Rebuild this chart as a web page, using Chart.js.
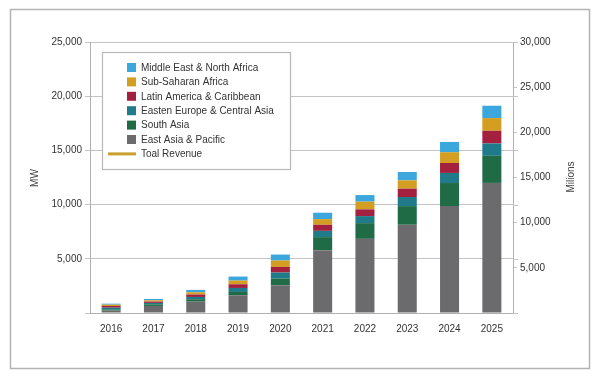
<!DOCTYPE html>
<html>
<head>
<meta charset="utf-8">
<script src="https://cdn.jsdelivr.net/npm/chart.js@4/dist/chart.umd.min.js"></script>
<style>
  html, body { margin: 0; padding: 0; background: #fff; }
  #wrap { width: 600px; height: 377px; }
</style>
</head>
<body>
<div id="wrap"><canvas id="regionChart" width="600" height="377"></canvas></div>
<script>
// Jahre und Werte (MW) je Region, von unten nach oben gestapelt
const years = ['2016', '2017', '2018', '2019', '2020', '2021', '2022', '2023', '2024', '2025'];
const eastAsia     = [220, 650, 1050, 1640, 2560, 5800, 6840, 8140, 9860, 12000];
const southAsia    = [120, 150, 220, 300, 620, 1200, 1450, 1720, 2130, 2500];
const easternEu    = [150, 130, 210, 370, 550, 580, 650, 840, 930, 1140];
const latinAmerica = [160, 120, 220, 340, 520, 560, 620, 770, 920, 1170];
const subSaharan   = [120, 120, 210, 340, 590, 520, 710, 770, 990, 1170];
const middleEast   = [90, 130, 220, 370, 550, 590, 610, 770, 950, 1140];
// Umsatzlinie: im Bild nicht sichtbar, daher leer
const revenue      = [null, null, null, null, null, null, null, null, null, null];

const leftTicks = [0, 5000, 10000, 15000, 20000, 25000];
const rightTicks = [0, 5000, 10000, 15000, 20000, 25000, 30000];

const fontFamily = '"Liberation Sans", Arial, sans-serif';
const gridColor = '#c4c4c4';

// Rahmen, Achsentitel und Legende im Diagramm zeichnen
const decorPlugin = {
    id: 'decor',
    afterDraw(chart) {
        const ctx = chart.ctx;
        const area = chart.chartArea;
        ctx.save();

        // äusserer Rahmen
        ctx.strokeStyle = '#b4b4b4';
        ctx.lineWidth = 1.5;
        ctx.strokeRect(10.5, 9.5, 579, 359);

        // kleine Striche rechts der rechten Achse
        ctx.strokeStyle = gridColor;
        ctx.lineWidth = 1;
        chart.scales.y.ticks.forEach(t => {
            const yy = Math.round(chart.scales.y.getPixelForValue(t.value)) + 0.5;
            ctx.beginPath();
            ctx.moveTo(area.right, yy);
            ctx.lineTo(area.right + 5, yy);
            ctx.stroke();
        });

        // Achsentitel
        ctx.fillStyle = '#444';
        ctx.font = '10px ' + fontFamily;
        ctx.textAlign = 'center';
        ctx.textBaseline = 'middle';
        ctx.save();
        ctx.translate(35, 178);
        ctx.rotate(-Math.PI / 2);
        ctx.fillText('MW', 0, 0);
        ctx.restore();
        ctx.save();
        ctx.translate(571, 177);
        ctx.rotate(-Math.PI / 2);
        ctx.fillText('Milions', 0, 0);
        ctx.restore();

        // Legende
        const bx = 102.5, by = 52.5, bw = 188, bh = 117;
        ctx.fillStyle = '#fff';
        ctx.fillRect(bx, by, bw, bh);
        ctx.strokeStyle = '#b8b8b8';
        ctx.lineWidth = 1.2;
        ctx.strokeRect(bx, by, bw, bh);

        const ds = chart.data.datasets;
        const bars = ds.filter(d => d.type !== 'line').slice().reverse();
        const lines = ds.filter(d => d.type === 'line');
        const items = bars.concat(lines);
        ctx.font = '10px ' + fontFamily;
        ctx.textAlign = 'left';
        ctx.textBaseline = 'middle';
        items.forEach((d, i) => {
            const cy = 67.5 + i * 14.4;
            if (d.type === 'line') {
                ctx.fillStyle = d.borderColor;
                ctx.fillRect(108, cy - 1.5, 28, 3);
            } else {
                ctx.fillStyle = d.backgroundColor;
                ctx.fillRect(127, cy - 4.5, 9, 9);
            }
            ctx.fillStyle = '#333';
            ctx.fillText(d.label, 141, cy + 0.5);
        });
        ctx.restore();
    }
};

const ctx = document.getElementById('regionChart').getContext('2d');
const regionChart = new Chart(ctx, {
    type: 'bar',
    data: {
        labels: years,
        datasets: [
            { label: 'East Asia & Pacific', data: eastAsia, backgroundColor: '#6b6b6e' },
            { label: 'South Asia', data: southAsia, backgroundColor: '#1f6b45' },
            { label: 'Easten Europe & Central Asia', data: easternEu, backgroundColor: '#1f7b8a' },
            { label: 'Latin America & Caribbean', data: latinAmerica, backgroundColor: '#a4203f' },
            { label: 'Sub-Saharan Africa', data: subSaharan, backgroundColor: '#d39e22' },
            { label: 'Middle East & North Africa', data: middleEast, backgroundColor: '#3ba7dc' },
            { type: 'line', label: 'Toal Revenue', data: revenue, yAxisID: 'y1', stack: 'rev',
              borderColor: '#c9a030', borderWidth: 3, pointRadius: 0, fill: false }
        ]
    },
    options: {
        responsive: false,
        animation: false,
        layout: { padding: { top: 42, left: 0, right: 0, bottom: 0 } },
        datasets: {
            bar: { categoryPercentage: 1, barPercentage: 0.45 }
        },
        plugins: {
            legend: { display: false },
            tooltip: { enabled: false }
        },
        scales: {
            x: {
                stacked: true,
                grid: { display: false, drawTicks: false },
                border: { display: true, color: '#b0b0b0' },
                ticks: { color: '#333', font: { family: fontFamily, size: 10 }, padding: 10, maxRotation: 0 },
                afterFit(s) { s.height = 64; }
            },
            y: {
                stacked: true,
                position: 'left',
                min: 0,
                max: 25000,
                afterBuildTicks(s) { s.ticks = leftTicks.map(v => ({ value: v })); },
                grid: { color: gridColor, tickLength: 5 },
                border: { display: true, color: '#b0b0b0' },
                ticks: {
                    color: '#333', font: { family: fontFamily, size: 10 }, padding: 3,
                    callback: v => v === 0 ? '' : v.toLocaleString('en-US')
                },
                afterFit(s) { s.width = 90; }
            },
            y1: {
                position: 'right',
                min: 0,
                max: 30000,
                afterBuildTicks(s) { s.ticks = rightTicks.map(v => ({ value: v })); },
                grid: { drawOnChartArea: false, color: gridColor, tickLength: 4 },
                border: { display: true, color: '#b0b0b0' },
                ticks: {
                    color: '#333', font: { family: fontFamily, size: 10 }, padding: 3,
                    callback: v => v === 0 ? '' : v.toLocaleString('en-US')
                },
                afterFit(s) { s.width = 87; }
            }
        }
    },
    plugins: [decorPlugin]
});
</script>
</body>
</html>
